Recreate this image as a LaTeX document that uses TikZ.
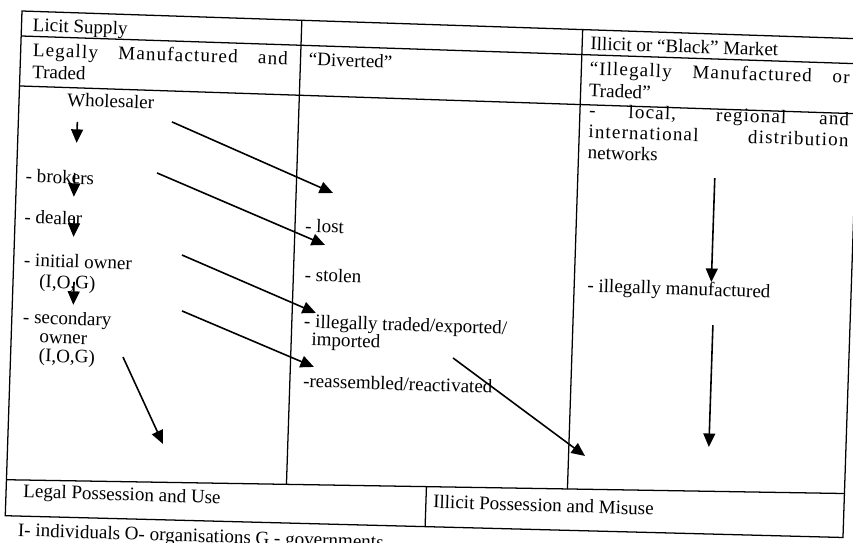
\documentclass[tikz,border=0pt]{standalone}
\usepackage{fontspec}
\setmainfont{Liberation Serif}
\usetikzlibrary{arrows.meta}
\newdimen\pxu \pxu=0.63pt
\tikzset{
  txt/.style={anchor=base west, inner sep=0pt},
  arr/.style={-{Triangle[length=8.5pt,width=7.5pt]}, line width=1pt},
  rule/.style={line width=0.8pt}
}
\newcommand{\spread}[2]{\makebox[#1\pxu][s]{\addfontfeature{LetterSpace=6}#2}}
\begin{document}
\begin{tikzpicture}[x=\pxu,y=-\pxu,font=\fontsize{12}{14}\selectfont]
  \useasboundingbox (0,0) rectangle (853,542);
  \begin{scope}[shift={(22,11)},rotate=-1.9,transform shape]
    % table
    \draw [rule] (0,0) -- (838,0) -- (838,499) -- (0,505) -- cycle;
    \draw [rule] (0,25) -- (838,25);
    \draw [rule] (0,75) -- (838,75);
    \draw [rule] (0,469) -- (838,455);
    \draw [rule] (280,0) -- (280,464.3);
    \draw [rule] (561,0) -- (561,459.6);
    \draw [rule] (420,462) -- (420,502);
    % headings
    \node [txt] (licit) at (11,20) {Licit Supply};
    \node [txt] (legally) at (12,45) {\spread{255}{Legally Manufactured and}};
    \node [txt] (traded1) at (12,67) {Traded};
    \node [txt] (diverted) at (288,45) {“Diverted”};
    \node [txt] (black) at (569,20) {Illicit or “Black” Market};
    \node [txt] (illegally) at (569,45) {\spread{260}{“Illegally Manufactured or}};
    \node [txt] (traded2) at (569,67) {Traded”};
    % legal column
    \node [txt] (whole) at (48,93.5) {Wholesaler};
    \node [txt] (brokers) at (9,171) {- brokers};
    \node [txt] (dealer) at (9,212) {- dealer};
    \node [txt] (initial) at (10,255) {- initial owner};
    \node [txt] (iog1) at (26,276) {(I,O,G)};
    \node [txt] (second) at (11,312) {- secondary};
    \node [txt] (owner) at (28,331) {owner};
    \node [txt] (iog2) at (28,350) {(I,O,G)};
    % diverted column
    \node [txt] (lost) at (290,211.5) {- lost};
    \node [txt] (stolen) at (291,260.5) {- stolen};
    \node [txt] (illtrad) at (292,307) {- illegally traded/exported/};
    \node [txt] (imported) at (300,325) {imported};
    \node [txt] (reass) at (293,366.5) {-reassembled/reactivated};
    % black market column
    \node [txt] (local) at (570,87) {\spread{260}{- local, regional and}};
    \node [txt] (intl) at (570,108) {\spread{260}{international distribution}};
    \node [txt] (networks) at (570,129) {networks};
    \node [txt] (illman) at (574,262) {- illegally manufactured};
    % bottom row
    \node [txt] (legpos) at (17,486) {Legal Possession and Use};
    \node [txt] (illpos) at (427,483) {Illicit Possession and Misuse};
    \node [txt] (note) at (13,525) {I- individuals O- organisations G - governments};
    % arrow ends
    \coordinate (d1a) at (59,109);   \coordinate (d1b) at (59,130);
    \coordinate (d2a) at (58,160);   \coordinate (d2b) at (58,184);
    \coordinate (d3a) at (59,204);   \coordinate (d3b) at (59,224);
    \coordinate (d4a) at (61,269);   \coordinate (d4b) at (61,292);
    \coordinate (a1a) at (153.6,105.9); \coordinate (a1b) at (316.9,171.6);
    \coordinate (a2a) at (140.3,157.4); \coordinate (a2b) at (310.6,223.8);
    \coordinate (a3a) at (168,238.6);   \coordinate (a3b) at (303.8,292.1);
    \coordinate (a4a) at (169.9,294.5); \coordinate (a4b) at (303.6,346.1);
    \coordinate (a5a) at (442.3,332.5); \coordinate (a5b) at (577.5,426.1);
    \coordinate (a6a) at (112.4,342.5); \coordinate (a6b) at (155.3,428.1);
    \coordinate (v1a) at (698,144);  \coordinate (v1b) at (698,248);
    \coordinate (v2a) at (701,291);  \coordinate (v2b) at (701,413);
    % arrows
    \draw [arr] (d1a) -- (d1b);
    \draw [arr] (d2a) -- (d2b);
    \draw [arr] (d3a) -- (d3b);
    \draw [arr] (d4a) -- (d4b);
    \draw [arr] (a1a) -- (a1b);
    \draw [arr] (a2a) -- (a2b);
    \draw [arr] (a3a) -- (a3b);
    \draw [arr] (a4a) -- (a4b);
    \draw [arr] (a5a) -- (a5b);
    \draw [arr] (a6a) -- (a6b);
    \draw [arr] (v1a) -- (v1b);
    \draw [arr] (v2a) -- (v2b);
  \end{scope}
\end{tikzpicture}
\end{document}
